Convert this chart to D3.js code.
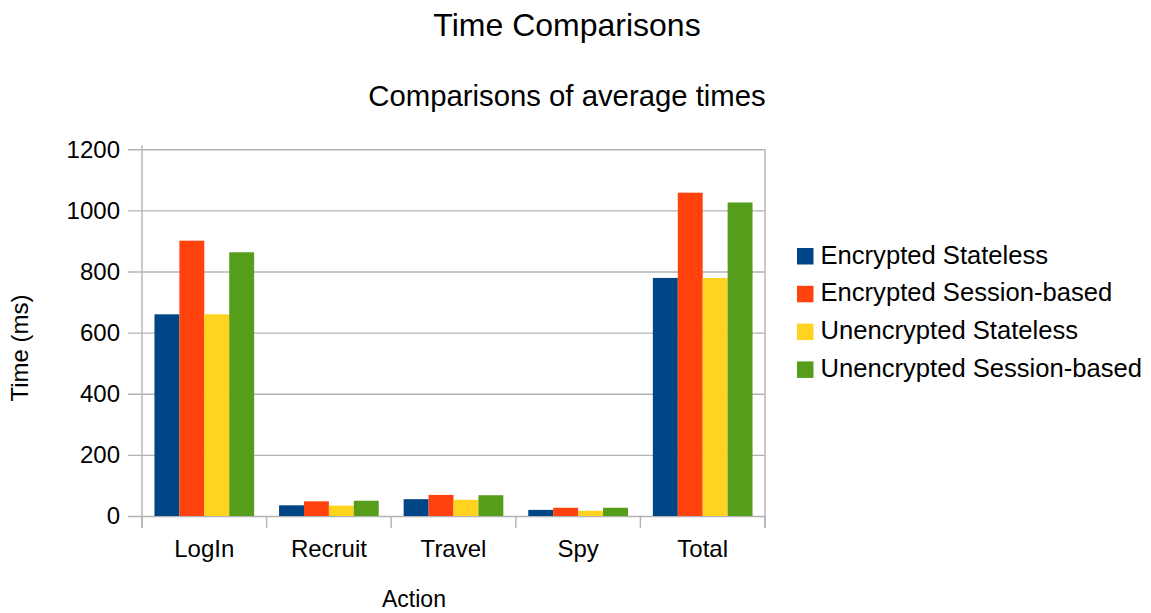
<!DOCTYPE html>
<html>
<head>
<meta charset="utf-8">
<script src="https://cdn.jsdelivr.net/npm/d3@7/dist/d3.min.js"></script>
<style>
  html, body { margin: 0; padding: 0; background: #fff; }
  text { font-family: "Liberation Sans", Arial, sans-serif; fill: #000; }
</style>
</head>
<body>
<svg id="chart" width="1151" height="613"></svg>
<script>
// Average action times (ms) per configuration
const categories = ["LogIn", "Recruit", "Travel", "Spy", "Total"];
const seriesNames = ["Encrypted Stateless", "Encrypted Session-based", "Unencrypted Stateless", "Unencrypted Session-based"];
const encryptedStateless = [660, 35, 55, 20, 779];
const encryptedSession = [901, 48, 69, 27, 1058];
const unencryptedStateless = [660, 34, 53, 17, 779];
const unencryptedSession = [863, 50, 68, 27, 1026];
const seriesColors = ["#004586", "#ff420e", "#ffd320", "#579d1c"];
const yTickValues = [0, 200, 400, 600, 800, 1000, 1200];

const seriesValues = [encryptedStateless, encryptedSession, unencryptedStateless, unencryptedSession];

const svg = d3.select("#chart");
const plotLeft = 142, plotRight = 765, plotTop = 149.3, plotBottom = 516;
const gridColor = "#b3b3b3";

const x = d3.scaleBand().domain(categories).range([plotLeft, plotRight]).paddingInner(0).paddingOuter(0);
const xs = d3.scaleBand().domain(seriesNames).range([0, x.bandwidth()]).paddingInner(0).paddingOuter(0.5);
const y = d3.scaleLinear().domain([0, 1200]).range([plotBottom, plotTop]);
const color = d3.scaleOrdinal().domain(seriesNames).range(seriesColors);

// Titles
svg.append("text").attr("x", 567).attr("y", 36).attr("text-anchor", "middle")
  .style("font-size", "32px").text("Time Comparisons");
svg.append("text").attr("x", 567).attr("y", 106).attr("text-anchor", "middle")
  .style("font-size", "29.3px").text("Comparisons of average times");

// Y axis with gridlines
const yAxis = d3.axisLeft(y).tickValues(yTickValues).tickSizeOuter(0).tickFormat(d3.format("d"));
const gy = svg.append("g").attr("transform", `translate(${plotLeft},0)`).call(yAxis);
gy.select(".domain").remove();
gy.selectAll(".tick line").attr("x1", -14).attr("x2", plotRight - plotLeft)
  .attr("stroke", gridColor).attr("stroke-width", 1.4);
gy.selectAll(".tick text").attr("x", -22).attr("dy", "0.33em")
  .style("font-size", "24px").style("font-family", "'Liberation Sans', Arial, sans-serif").attr("fill", "#000");

// Plot frame: left axis and right border
svg.append("line").attr("x1", plotLeft).attr("x2", plotLeft).attr("y1", plotTop - 4).attr("y2", plotBottom + 12)
  .attr("stroke", gridColor).attr("stroke-width", 1.4);
svg.append("line").attr("x1", plotRight).attr("x2", plotRight).attr("y1", plotTop).attr("y2", plotBottom + 12)
  .attr("stroke", gridColor).attr("stroke-width", 1.4);

// Category boundary ticks
const boundaries = categories.map(c => x(c)).concat([x.range()[1]]);
svg.selectAll("line.cat-tick").data(boundaries).enter().append("line")
  .attr("class", "cat-tick")
  .attr("x1", d => d).attr("x2", d => d).attr("y1", plotBottom).attr("y2", plotBottom + 12)
  .attr("stroke", gridColor).attr("stroke-width", 1.4);

// X axis labels
const xAxis = d3.axisBottom(x).tickSize(0).tickPadding(0);
const gx = svg.append("g").attr("transform", `translate(0,${plotBottom})`).call(xAxis);
gx.select(".domain").remove();
gx.selectAll(".tick text").attr("y", 41).attr("dy", 0)
  .style("font-size", "24px").style("font-family", "'Liberation Sans', Arial, sans-serif").attr("fill", "#000");

// Bars
const groups = svg.append("g").selectAll("g").data(categories).enter().append("g")
  .attr("transform", d => `translate(${x(d)},0)`);
groups.selectAll("rect")
  .data((c, i) => seriesNames.map((s, k) => ({ series: s, value: seriesValues[k][i] })))
  .enter().append("rect")
  .attr("x", d => xs(d.series))
  .attr("width", xs.bandwidth())
  .attr("y", d => y(d.value))
  .attr("height", d => y(0) - y(d.value))
  .attr("fill", d => color(d.series));

// Axis titles
svg.append("text").attr("x", 414).attr("y", 607).attr("text-anchor", "middle")
  .style("font-size", "23px").text("Action");
svg.append("text").attr("transform", "translate(28,348) rotate(-90)").attr("text-anchor", "middle")
  .style("font-size", "24px").text("Time (ms)");

// Legend
const legend = svg.append("g").selectAll("g").data(seriesNames).enter().append("g")
  .attr("transform", (d, i) => `translate(797,${263.5 + i * 37.8})`);
legend.append("rect").attr("x", 0).attr("y", -15.5).attr("width", 16.5).attr("height", 16.5)
  .attr("fill", d => color(d));
legend.append("text").attr("x", 23.5).attr("y", 0).style("font-size", "25.6px").text(d => d);
</script>
</body>
</html>
